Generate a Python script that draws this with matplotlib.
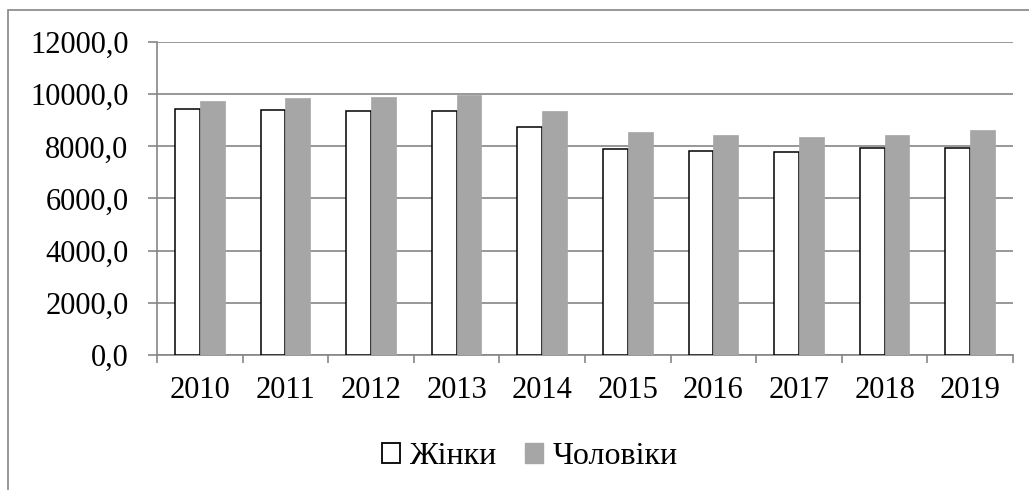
import numpy as np
import matplotlib
matplotlib.use("Agg")
import matplotlib.pyplot as plt
from matplotlib.patches import Patch, Rectangle

plt.rcParams['font.family'] = ['Liberation Serif', 'DejaVu Serif']

# Data
years = ['2010', '2011', '2012', '2013', '2014', '2015', '2016', '2017', '2018', '2019']
women = [9450, 9375, 9360, 9350, 8740, 7885, 7835, 7785, 7925, 7935]
men = [9730, 9860, 9910, 9975, 9350, 8560, 8445, 8370, 8445, 8640]
yticks = [0, 2000, 4000, 6000, 8000, 10000, 12000]

axis_gray = '#868686'
bar_gray = '#A6A6A6'
fs = 22

fig = plt.figure(figsize=(10.29, 4.9), dpi=100)
# outer chart frame (cut by the page edge on the right/bottom)
fig.patches.append(Rectangle((8 / 1029, -0.1), 1.1, 1 - 10 / 490 + 0.1,
                             transform=fig.transFigure, fill=False,
                             edgecolor=axis_gray, linewidth=1.2))

ax = fig.add_axes([157 / 1029, 1 - 355 / 490, (1013 - 157) / 1029, (355 - 42) / 490])

x = np.arange(len(years))
w = 0.29
ax.bar(x - w / 2, women, w, color='white', edgecolor='black', linewidth=1.1, zorder=3)
ax.bar(x + w / 2, men, w, color=bar_gray, edgecolor=bar_gray, linewidth=0.5, zorder=3)

ax.set_xlim(-0.5, len(years) - 0.5)
ax.set_ylim(0, 12000)
ax.set_yticks(yticks)
ax.set_yticklabels([f'{v},0' for v in yticks])
ax.yaxis.grid(True, color=axis_gray, linewidth=1.2, zorder=0)
ax.set_axisbelow(True)

ax.set_xticks(x)
ax.set_xticklabels(years)
ax.set_xticks(np.arange(-0.5, len(years)), minor=True)
ax.tick_params(axis='x', which='major', length=0, pad=15, labelsize=fs)
ax.tick_params(axis='x', which='minor', length=6, width=1.2, color=axis_gray)
ax.tick_params(axis='y', length=6.5, width=1.2, color=axis_gray, pad=14, labelsize=fs)

for side in ['top', 'right']:
    ax.spines[side].set_visible(False)
for side in ['left', 'bottom']:
    ax.spines[side].set_color(axis_gray)
    ax.spines[side].set_linewidth(1.2)

handles = [Patch(facecolor='white', edgecolor='black', linewidth=1.3),
           Patch(facecolor=bar_gray, edgecolor=bar_gray)]
fig.legend(handles, ['Жінки', 'Чоловіки'], loc='center', bbox_to_anchor=(0.515, 0.068),
           ncol=2, frameon=False, fontsize=23, handlelength=0.55, handleheight=0.55,
           handletextpad=0.3, columnspacing=0.9)

fig.savefig('out.png', dpi=100)
